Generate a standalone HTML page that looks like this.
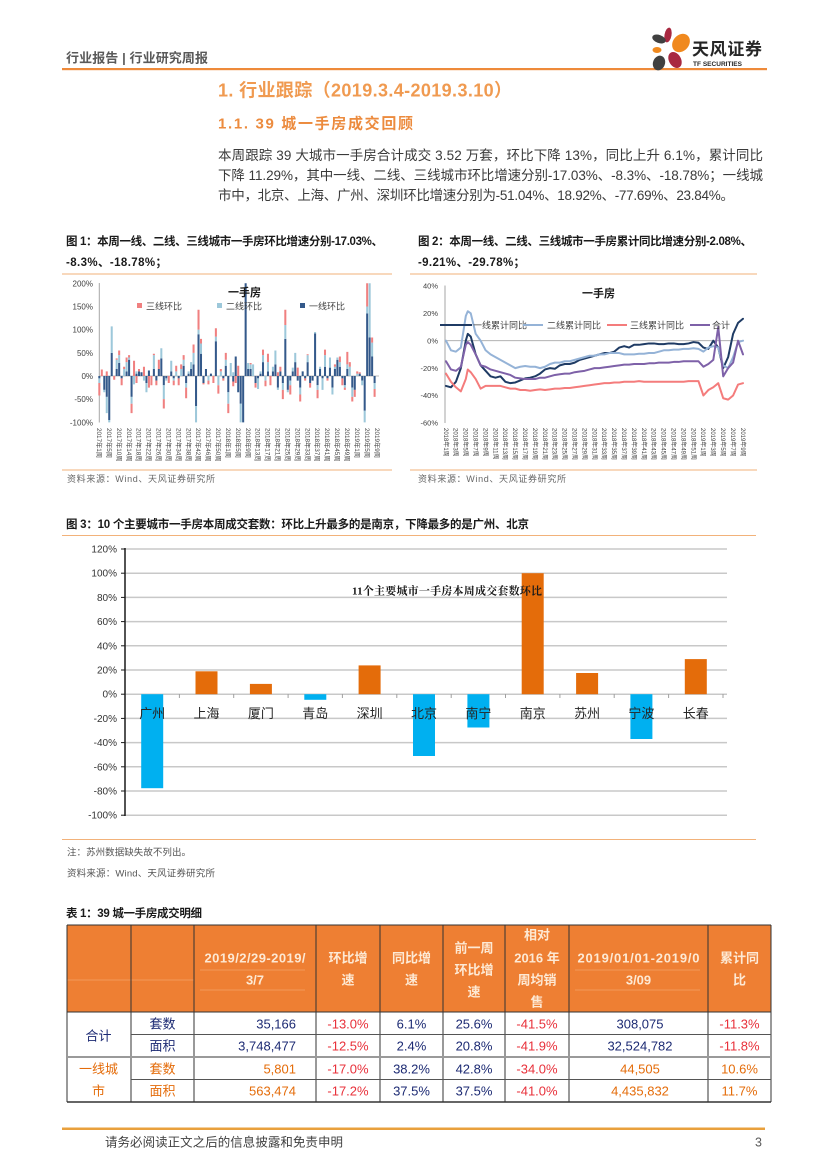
<!DOCTYPE html>
<html><head><meta charset="utf-8">
<style>
html,body{margin:0;padding:0;background:#fff;}
#pg{position:relative;width:827px;height:1169px;overflow:hidden;background:#fff;}
svg{position:absolute;left:0;top:0;}
</style></head>
<body><div id="pg">
<svg width="827" height="1169" viewBox="0 0 827 1169" font-family="'Liberation Sans','Noto Sans CJK SC',sans-serif">
<!-- Header -->
<text x="66" y="62.5" font-size="13" font-weight="bold" fill="#595959" textLength="142">行业报告 | 行业研究周报</text>
<rect x="62" y="68" width="705" height="2.2" fill="#EE8A3A"/>
<g>
<ellipse cx="668" cy="35" rx="3.5" ry="7.5" transform="rotate(10 668 35)" fill="#A82840"/>
<ellipse cx="681" cy="43" rx="8" ry="10" transform="rotate(40 681 43)" fill="#F0891E"/>
<ellipse cx="659" cy="39" rx="7" ry="4" transform="rotate(20 659 39)" fill="#404040"/>
<ellipse cx="657" cy="50" rx="4.5" ry="3" fill="#F0891E"/>
<ellipse cx="675" cy="60" rx="6" ry="8.5" transform="rotate(-30 675 60)" fill="#A82840"/>
<ellipse cx="659" cy="63" rx="6" ry="7.5" transform="rotate(20 659 63)" fill="#404040"/>
</g>
<text x="692" y="55" font-size="17" font-weight="bold" fill="#262626" textLength="70">天风证券</text>
<text x="693" y="66" font-size="6.5" font-weight="bold" fill="#262626" textLength="49">TF SECURITIES</text>

<!-- Titles -->
<text x="218" y="96.5" font-size="18" font-weight="bold" fill="#F09A50" textLength="294">1. 行业跟踪（2019.3.4-2019.3.10）</text>
<text x="218" y="128.5" font-size="15" font-weight="bold" fill="#EC8B3E" textLength="195">1.1.  39 城一手房成交回顾</text>

<!-- Paragraph -->
<g font-size="13.5" fill="#3a3a3a">
<text x="218" y="160" textLength="545">本周跟踪 39 大城市一手房合计成交 3.52 万套，环比下降 13%，同比上升 6.1%，累计同比</text>
<text x="218" y="180" textLength="545">下降 11.29%，其中一线、二线、三线城市环比增速分别-17.03%、-8.3%、-18.78%；一线城</text>
<text x="218" y="200" textLength="516">市中，北京、上海、广州、深圳环比增速分别为-51.04%、18.92%、-77.69%、23.84%。</text>
</g>

<!-- Captions fig1 / fig2 -->
<g font-size="11.5" font-weight="bold" fill="#1a1a1a">
<text x="66" y="245" textLength="317">图 1：本周一线、二线、三线城市一手房环比增速分别-17.03%、</text>
<text x="66" y="266" textLength="101">-8.3%、-18.78%；</text>
<text x="418" y="245" textLength="334">图 2：本周一线、二线、三线城市一手房累计同比增速分别-2.08%、</text>
<text x="418" y="266" textLength="107">-9.21%、-29.78%；</text>
</g>
<rect x="62" y="273.5" width="330" height="1" fill="#F2B27A"/>
<rect x="410" y="273.5" width="347" height="1" fill="#F2B27A"/>
<rect x="62" y="469.5" width="330" height="1" fill="#F2B27A"/>
<rect x="410" y="469.5" width="347" height="1" fill="#F2B27A"/>
<g font-size="9" fill="#666">
<text x="67" y="482" textLength="148">资料来源：Wind、天风证券研究所</text>
<text x="418" y="482" textLength="148">资料来源：Wind、天风证券研究所</text>
</g>

<!-- Chart 1 -->
<g font-size="8" fill="#404040" text-anchor="end">
<text x="93" y="286.3">200%</text><text x="93" y="309.5">150%</text><text x="93" y="332.6">100%</text>
<text x="93" y="355.8">50%</text><text x="93" y="379">0%</text><text x="93" y="402.2">-50%</text><text x="93" y="425.4">-100%</text>
</g>
<line x1="99.3" y1="283" x2="99.3" y2="422.5" stroke="#A6A6A6" stroke-width="1"/>
<line x1="99.3" y1="376" x2="379" y2="376" stroke="#A6A6A6" stroke-width="0.8"/>
<g transform="translate(99.3,376) scale(2.48,-0.4635)">
<path fill="#34598A" d="M-.4 0h.82V-5h-.82zM1.6 0h.82V-30h-.82zM2.6 0h.82V-45h-.82zM3.6 0h.82V-95h-.82zM4.6 0h.82V50h-.82zM6.6 0h.82V15h-.82zM7.6 0h.82V28h-.82zM8.6 0h.82V-5h-.82zM10.6 0h.82V10h-.82zM11.6 0h.82V35h-.82zM12.6 0h.82V-45h-.82zM14.6 0h.82V5h-.82zM15.6 0h.82V10h-.82zM16.6 0h.82V8h-.82zM18.6 0h.82V-15h-.82zM19.6 0h.82V12h-.82zM21.6 0h.82V15h-.82zM22.6 0h.82V-10h-.82zM23.6 0h.82V15h-.82zM24.6 0h.82V38h-.82zM25.6 0h.82V-20h-.82zM26.6 0h.82V-5h-.82zM28.6 0h.82V10h-.82zM29.6 0h.82V-5h-.82zM31.6 0h.82V-5h-.82zM33.6 0h.82V22h-.82zM34.6 0h.82V-15h-.82zM35.6 0h.82V5h-.82zM36.6 0h.82V15h-.82zM37.6 0h.82V25h-.82zM38.6 0h.82V-65h-.82zM39.6 0h.82V90h-.82zM40.6 0h.82V48h-.82zM41.6 0h.82V-15h-.82zM42.6 0h.82V15h-.82zM44.6 0h.82V5h-.82zM46.6 0h.82V75h-.82zM49.6 0h.82V-5h-.82zM50.6 0h.82V22h-.82zM51.6 0h.82V-35h-.82zM53.6 0h.82V-12h-.82zM54.6 0h.82V42h-.82zM55.6 0h.82V-35h-.82zM56.6 0h.82V-60h-.82zM57.6 0h.82V-100h-.82zM58.6 0h.82V200h-.82zM59.6 0h.82V15h-.82zM60.6 0h.82V15h-.82zM62.6 0h.82V-15h-.82zM63.6 0h.82V-5h-.82zM64.6 0h.82V5h-.82zM65.6 0h.82V30h-.82zM67.6 0h.82V10h-.82zM69.6 0h.82V10h-.82zM70.6 0h.82V25h-.82zM71.6 0h.82V-25h-.82zM72.6 0h.82V10h-.82zM73.6 0h.82V-15h-.82zM74.6 0h.82V80h-.82zM75.6 0h.82V-30h-.82zM76.6 0h.82V-10h-.82zM77.6 0h.82V10h-.82zM78.6 0h.82V30h-.82zM79.6 0h.82V-10h-.82zM80.6 0h.82V-25h-.82zM81.6 0h.82V10h-.82zM82.6 0h.82V-5h-.82zM83.6 0h.82V30h-.82zM84.6 0h.82V-15h-.82zM85.6 0h.82V-10h-.82zM86.6 0h.82V92h-.82zM87.6 0h.82V-20h-.82zM88.6 0h.82V15h-.82zM89.6 0h.82V-5h-.82zM90.6 0h.82V20h-.82zM91.6 0h.82V-5h-.82zM92.6 0h.82V18h-.82zM93.6 0h.82V-25h-.82zM94.6 0h.82V15h-.82zM95.6 0h.82V35h-.82zM96.6 0h.82V20h-.82zM97.6 0h.82V-5h-.82zM98.6 0h.82V-20h-.82zM99.6 0h.82V15h-.82zM101.6 0h.82V-25h-.82zM102.6 0h.82V-30h-.82zM104.6 0h.82V5h-.82zM105.6 0h.82V-10h-.82zM106.6 0h.82V-75h-.82zM107.6 0h.82V135h-.82zM108.6 0h.82V83h-.82zM109.6 0h.82V42h-.82zM110.6 0h.82V-15h-.82z"/>
<path fill="#9DC8DA" d="M-.4 -5h.82V-15h-.82zM1.6 -30h.82V-35h-.82zM2.6 -45h.82V-80h-.82zM3.6 -95h.82V-100h-.82zM4.6 50h.82V107h-.82zM6.6 15h.82V35h-.82zM7.6 28h.82V45h-.82zM9.6 0h.82V15h-.82zM10.6 10h.82V30h-.82zM11.6 35h.82V40h-.82zM12.6 -45h.82V-60h-.82zM13.6 0h.82V-18h-.82zM14.6 5h.82V10h-.82zM17.6 0h.82V-10h-.82zM18.6 -15h.82V-35h-.82zM21.6 15h.82V45h-.82zM24.6 38h.82V60h-.82zM25.6 -20h.82V-50h-.82zM26.6 -5h.82V-10h-.82zM28.6 10h.82V33h-.82zM29.6 -5h.82V-10h-.82zM30.6 0h.82V10h-.82zM32.6 0h.82V15h-.82zM33.6 22h.82V35h-.82zM34.6 -15h.82V-25h-.82zM35.6 5h.82V10h-.82zM36.6 15h.82V30h-.82zM37.6 25h.82V50h-.82zM38.6 -65h.82V-100h-.82zM39.6 90h.82V100h-.82zM40.6 48h.82V70h-.82zM43.6 0h.82V-10h-.82zM46.6 75h.82V85h-.82zM47.6 0h.82V-20h-.82zM48.6 0h.82V10h-.82zM50.6 22h.82V35h-.82zM51.6 -35h.82V-60h-.82zM52.6 0h.82V28h-.82zM53.6 0h.82V8h-.82zM56.6 -60h.82V-100h-.82zM59.6 15h.82V28h-.82zM60.6 15h.82V25h-.82zM61.6 0h.82V25h-.82zM63.6 -5h.82V-28h-.82zM64.6 5h.82V10h-.82zM65.6 30h.82V45h-.82zM66.6 0h.82V-10h-.82zM67.6 10h.82V30h-.82zM69.6 10h.82V20h-.82zM70.6 25h.82V55h-.82zM71.6 -25h.82V-30h-.82zM73.6 -15h.82V-30h-.82zM74.6 80h.82V110h-.82zM75.6 -30h.82V-35h-.82zM76.6 -10h.82V-20h-.82zM77.6 10h.82V18h-.82zM78.6 30h.82V50h-.82zM80.6 -25h.82V-40h-.82zM83.6 30h.82V45h-.82zM86.6 92h.82V95h-.82zM87.6 -20h.82V-30h-.82zM88.6 15h.82V20h-.82zM89.6 -5h.82V-30h-.82zM90.6 20h.82V45h-.82zM92.6 18h.82V40h-.82zM93.6 -25h.82V-40h-.82zM94.6 15h.82V20h-.82zM95.6 35h.82V40h-.82zM96.6 20h.82V30h-.82zM98.6 -20h.82V-25h-.82zM99.6 15h.82V25h-.82zM100.6 0h.82V20h-.82zM101.6 -25h.82V-45h-.82zM103.6 0h.82V5h-.82zM105.6 -10h.82V-20h-.82zM106.6 -75h.82V-100h-.82zM107.6 135h.82V150h-.82zM108.6 83h.82V200h-.82zM109.6 42h.82V72h-.82zM110.6 -15h.82V-28h-.82z"/>
<path fill="#F08080" d="M-.4 -15h.82V-42h-.82zM.6 0h.82V14h-.82zM2.6 0h.82V10h-.82zM5.6 0h.82V-8h-.82zM6.6 35h.82V38h-.82zM7.6 45h.82V55h-.82zM8.6 -5h.82V-20h-.82zM9.6 15h.82V20h-.82zM10.6 30h.82V40h-.82zM11.6 40h.82V45h-.82zM12.6 -60h.82V-80h-.82zM13.6 0h.82V33h-.82zM14.6 0h.82V-15h-.82zM15.6 10h.82V15h-.82zM17.6 0h.82V20h-.82zM19.6 0h.82V-25h-.82zM20.6 0h.82V-20h-.82zM21.6 45h.82V48h-.82zM22.6 -10h.82V-20h-.82zM23.6 15h.82V35h-.82zM25.6 -50h.82V-70h-.82zM27.6 0h.82V-15h-.82zM29.6 -10h.82V-20h-.82zM30.6 10h.82V22h-.82zM31.6 -5h.82V-20h-.82zM32.6 15h.82V25h-.82zM33.6 35h.82V45h-.82zM34.6 -25h.82V-48h-.82zM37.6 50h.82V68h-.82zM39.6 100h.82V143h-.82zM40.6 70h.82V80h-.82zM41.6 -15h.82V-18h-.82zM43.6 -10h.82V-18h-.82zM45.6 0h.82V-15h-.82zM46.6 85h.82V103h-.82zM47.6 -20h.82V-38h-.82zM48.6 10h.82V15h-.82zM49.6 -5h.82V-10h-.82zM50.6 35h.82V50h-.82zM51.6 -60h.82V-80h-.82zM53.6 -12h.82V-22h-.82zM54.6 0h.82V-15h-.82zM55.6 0h.82V22h-.82zM60.6 25h.82V28h-.82zM62.6 -15h.82V-25h-.82zM65.6 45h.82V57h-.82zM66.6 -10h.82V-22h-.82zM67.6 30h.82V48h-.82zM68.6 0h.82V-20h-.82zM71.6 0h.82V8h-.82zM72.6 10h.82V20h-.82zM73.6 -30h.82V-50h-.82zM74.6 110h.82V143h-.82zM76.6 -20h.82V-40h-.82zM79.6 0h.82V18h-.82zM80.6 -40h.82V-55h-.82zM82.6 -5h.82V-10h-.82zM83.6 45h.82V47h-.82zM84.6 -15h.82V-25h-.82zM87.6 -30h.82V-48h-.82zM90.6 45h.82V57h-.82zM91.6 -5h.82V-10h-.82zM94.6 20h.82V25h-.82zM96.6 30h.82V42h-.82zM97.6 -5h.82V-20h-.82zM98.6 -25h.82V-30h-.82zM99.6 25h.82V52h-.82zM100.6 20h.82V30h-.82zM101.6 -45h.82V-55h-.82zM102.6 -30h.82V-45h-.82zM103.6 5h.82V10h-.82zM104.6 5h.82V8h-.82zM107.6 150h.82V200h-.82zM109.6 72h.82V83h-.82zM110.6 -28h.82V-45h-.82z"/>
</g>
<text x="228" y="296" font-size="11" font-weight="bold" fill="#1a1a1a">一手房</text>
<g font-size="9" fill="#404040">
<rect x="137" y="303" width="5" height="5" fill="#F08080"/><text x="146" y="309.5">三线环比</text>
<rect x="217" y="303" width="5" height="5" fill="#9DC8DA"/><text x="226" y="309.5">二线环比</text>
<rect x="300" y="303" width="5" height="5" fill="#34598A"/><text x="309" y="309.5">一线环比</text>
</g>
<g font-size="6.3" fill="#404040">
<text transform="translate(97,428) rotate(90)">2017年1周</text>
<text transform="translate(106.9,428) rotate(90)">2017年5周</text>
<text transform="translate(116.8,428) rotate(90)">2017年10周</text>
<text transform="translate(126.8,428) rotate(90)">2017年14周</text>
<text transform="translate(136.7,428) rotate(90)">2017年18周</text>
<text transform="translate(146.6,428) rotate(90)">2017年22周</text>
<text transform="translate(156.5,428) rotate(90)">2017年26周</text>
<text transform="translate(166.4,428) rotate(90)">2017年30周</text>
<text transform="translate(176.4,428) rotate(90)">2017年34周</text>
<text transform="translate(186.3,428) rotate(90)">2017年38周</text>
<text transform="translate(196.2,428) rotate(90)">2017年42周</text>
<text transform="translate(206.1,428) rotate(90)">2017年46周</text>
<text transform="translate(216,428) rotate(90)">2017年50周</text>
<text transform="translate(226,428) rotate(90)">2018年1周</text>
<text transform="translate(235.9,428) rotate(90)">2018年5周</text>
<text transform="translate(245.8,428) rotate(90)">2018年9周</text>
<text transform="translate(255.7,428) rotate(90)">2018年13周</text>
<text transform="translate(265.6,428) rotate(90)">2018年17周</text>
<text transform="translate(275.6,428) rotate(90)">2018年21周</text>
<text transform="translate(285.5,428) rotate(90)">2018年25周</text>
<text transform="translate(295.4,428) rotate(90)">2018年29周</text>
<text transform="translate(305.3,428) rotate(90)">2018年33周</text>
<text transform="translate(315.2,428) rotate(90)">2018年37周</text>
<text transform="translate(325.2,428) rotate(90)">2018年41周</text>
<text transform="translate(335.1,428) rotate(90)">2018年45周</text>
<text transform="translate(345,428) rotate(90)">2018年49周</text>
<text transform="translate(354.9,428) rotate(90)">2019年1周</text>
<text transform="translate(364.8,428) rotate(90)">2019年5周</text>
<text transform="translate(374.8,428) rotate(90)">2019年9周</text>
</g>

<!-- Chart 2 -->
<g font-size="7.5" fill="#404040" text-anchor="end">
<text x="438" y="288.6">40%</text><text x="438" y="316">20%</text><text x="438" y="343.4">0%</text>
<text x="438" y="370.8">-20%</text><text x="438" y="398.2">-40%</text><text x="438" y="425.6">-60%</text>
</g>
<line x1="445" y1="285.5" x2="445" y2="423" stroke="#A6A6A6" stroke-width="1"/>
<line x1="445" y1="340.7" x2="744" y2="340.7" stroke="#A6A6A6" stroke-width="0.8"/>
<g transform="translate(446,340.7) scale(4.95,-1.37)" fill="none" stroke-linejoin="round" stroke-linecap="round">
<polyline vector-effect="non-scaling-stroke" stroke="#1F3B64" stroke-width="2" points="0,-33 1,-34 2,-30 3,-20 4,0 4.4,5 5,3 6,-10 7,-18 8,-22 9,-26 10,-27 11,-26 12,-30 13,-31 14,-30.5 15,-29 16,-27.5 17,-27 18,-26 19,-24 20,-21 21,-20 22,-20.5 23,-18 24,-17 25,-17 26,-16 27,-14 28,-13 29,-12 30,-11 31,-10 32,-9 33,-9 34,-8 35,-5 36,-4 37,-5 38,-3 39,-3 40,-2.5 41,-2 42,-2 43,-2.5 44,-2.5 45,-2 46,-2 47,-2.5 48,-2.5 49,-2 50,-1 51,-1.5 52,-5 53,-6 54,0 55,-5 56,-20 57,-12 58,5 59,13 60,16"/>
<polyline vector-effect="non-scaling-stroke" stroke="#95B3D7" stroke-width="2" points="0,0 1,-7 2,-8 3,-5 4,18 4.4,21.5 5,20 6,5 7,0 8,-7 9,-10 10,-12 11,-14 12,-16 13,-18 14,-20 15,-19 16,-18.5 17,-19 18,-19 19,-20 20,-19 21,-17 22,-16 23,-16 24,-15 25,-15 26,-14 27,-13 28,-12 29,-11 30,-11 31,-10 32,-10 33,-9 34,-9 35,-9 36,-10 37,-10 38,-10 39,-9.5 40,-9.5 41,-9 42,-9 43,-8 44,-7 45,-7 46,-6.5 47,-6.5 48,-6 49,-6 50,-5.5 51,-6 52,-8 53,-5 54,-4 55,-5 56,-18 57,-20 58,-12 59,-1 60,0"/>
<polyline vector-effect="non-scaling-stroke" stroke="#F47C7C" stroke-width="2" points="0,-24 1,-30 2,-34 3,-37 4,-28 4.4,-21 5,-23 6,-28 7,-35 8,-33 9,-33 10,-33 11,-33 12,-34 13,-35 14,-35 15,-36 16,-36 17,-36.5 18,-36 19,-35.5 20,-36 21,-35.5 22,-35 23,-35 24,-34.5 25,-34.5 26,-34 27,-33.5 28,-33 29,-32.5 30,-32 31,-31.5 32,-31 33,-31 34,-30.5 35,-30.5 36,-30 37,-30 38,-30 39,-29.5 40,-30 41,-30 42,-30 43,-30 44,-30 45,-30 46,-30 47,-30 48,-30 49,-29.5 50,-29.5 51,-29.5 52,-40 53,-36 54,-34 55,-31 56,-42 57,-43 58,-40 59,-32 60,-31"/>
<polyline vector-effect="non-scaling-stroke" stroke="#7E61A8" stroke-width="2" points="0,-15 1,-21 2,-22 3,-19 4,-3 4.4,-1 5,-3 6,-10 7,-18 8,-19 9,-21 10,-22 11,-23 12,-24 13,-25 14,-27 15,-27.5 16,-28 17,-28 18,-28 19,-27 20,-27 21,-26 22,-25 23,-24.5 24,-24 25,-24 26,-23 27,-22.5 28,-22 29,-21 30,-20 31,-20 32,-19.5 33,-19 34,-18.5 35,-18 36,-17.5 37,-17.5 38,-17 39,-17 40,-17 41,-16.5 42,-16.5 43,-16 44,-16 45,-16 46,-15.5 47,-15.5 48,-15 49,-15 50,-15 51,-15 52,-19 53,-17 54,-14 55,10 56,-26 57,-20 58,-16 59,0 60,-10"/>
</g>
<text x="582" y="297" font-size="11" font-weight="bold" fill="#1a1a1a">一手房</text>
<g font-size="9" fill="#404040">
<line x1="440" y1="325" x2="472" y2="325" stroke="#1F3B64" stroke-width="2"/><text x="473" y="328.3">一线累计同比</text>
<line x1="523" y1="325" x2="543" y2="325" stroke="#95B3D7" stroke-width="2"/><text x="547" y="328.3">二线累计同比</text>
<line x1="607" y1="325" x2="627" y2="325" stroke="#F47C7C" stroke-width="2"/><text x="630" y="328.3">三线累计同比</text>
<line x1="690" y1="325" x2="710" y2="325" stroke="#7E61A8" stroke-width="2"/><text x="712" y="328.3">合计</text>
</g>
<g font-size="6" fill="#404040">
<text transform="translate(443.8,428) rotate(90)">2018年1周</text>
<text transform="translate(453.7,428) rotate(90)">2018年3周</text>
<text transform="translate(463.6,428) rotate(90)">2018年5周</text>
<text transform="translate(473.5,428) rotate(90)">2018年7周</text>
<text transform="translate(483.4,428) rotate(90)">2018年9周</text>
<text transform="translate(493.3,428) rotate(90)">2018年11周</text>
<text transform="translate(503.2,428) rotate(90)">2018年13周</text>
<text transform="translate(513.1,428) rotate(90)">2018年15周</text>
<text transform="translate(523,428) rotate(90)">2018年17周</text>
<text transform="translate(532.9,428) rotate(90)">2018年19周</text>
<text transform="translate(542.8,428) rotate(90)">2018年21周</text>
<text transform="translate(552.7,428) rotate(90)">2018年23周</text>
<text transform="translate(562.6,428) rotate(90)">2018年25周</text>
<text transform="translate(572.5,428) rotate(90)">2018年27周</text>
<text transform="translate(582.4,428) rotate(90)">2018年29周</text>
<text transform="translate(592.3,428) rotate(90)">2018年31周</text>
<text transform="translate(602.2,428) rotate(90)">2018年33周</text>
<text transform="translate(612.1,428) rotate(90)">2018年35周</text>
<text transform="translate(622,428) rotate(90)">2018年37周</text>
<text transform="translate(631.9,428) rotate(90)">2018年39周</text>
<text transform="translate(641.8,428) rotate(90)">2018年41周</text>
<text transform="translate(651.7,428) rotate(90)">2018年43周</text>
<text transform="translate(661.6,428) rotate(90)">2018年45周</text>
<text transform="translate(671.5,428) rotate(90)">2018年47周</text>
<text transform="translate(681.4,428) rotate(90)">2018年49周</text>
<text transform="translate(691.3,428) rotate(90)">2018年51周</text>
<text transform="translate(701.2,428) rotate(90)">2019年1周</text>
<text transform="translate(711.1,428) rotate(90)">2019年3周</text>
<text transform="translate(721,428) rotate(90)">2019年5周</text>
<text transform="translate(730.9,428) rotate(90)">2019年7周</text>
<text transform="translate(740.8,428) rotate(90)">2019年9周</text>
</g>

<!-- Chart 3 -->
<text x="66" y="528" font-size="11.5" font-weight="bold" fill="#1a1a1a" textLength="463">图 3：10 个主要城市一手房本周成交套数：环比上升最多的是南京，下降最多的是广州、北京</text>
<rect x="62" y="535" width="694" height="1" fill="#F2B27A"/>
<g stroke="#C8C8C8" stroke-width="1.5">
<line x1="125" y1="549" x2="727" y2="549"/><line x1="125" y1="573.2" x2="727" y2="573.2"/>
<line x1="125" y1="597.4" x2="727" y2="597.4"/><line x1="125" y1="621.6" x2="727" y2="621.6"/>
<line x1="125" y1="645.8" x2="727" y2="645.8"/><line x1="125" y1="670" x2="727" y2="670"/>
<line x1="125" y1="694.2" x2="727" y2="694.2"/><line x1="125" y1="718.4" x2="727" y2="718.4"/>
<line x1="125" y1="742.6" x2="727" y2="742.6"/><line x1="125" y1="766.8" x2="727" y2="766.8"/>
<line x1="125" y1="791" x2="727" y2="791"/><line x1="125" y1="815.2" x2="727" y2="815.2"/>
</g>
<g stroke="#A0A0A0" stroke-width="1">
<line x1="179.4" y1="694" x2="179.4" y2="698"/><line x1="233.7" y1="694" x2="233.7" y2="698"/>
<line x1="288.1" y1="694" x2="288.1" y2="698"/><line x1="342.4" y1="694" x2="342.4" y2="698"/>
<line x1="396.8" y1="694" x2="396.8" y2="698"/><line x1="451.2" y1="694" x2="451.2" y2="698"/>
<line x1="505.5" y1="694" x2="505.5" y2="698"/><line x1="559.9" y1="694" x2="559.9" y2="698"/>
<line x1="614.2" y1="694" x2="614.2" y2="698"/><line x1="668.6" y1="694" x2="668.6" y2="698"/>
<line x1="723" y1="694" x2="723" y2="698"/>
</g>
<line x1="125" y1="548" x2="125" y2="816" stroke="#1a1a1a" stroke-width="1.5"/>
<g stroke="#1a1a1a" stroke-width="1">
<line x1="121" y1="549" x2="125" y2="549"/><line x1="121" y1="573.2" x2="125" y2="573.2"/><line x1="121" y1="597.4" x2="125" y2="597.4"/><line x1="121" y1="621.6" x2="125" y2="621.6"/><line x1="121" y1="645.8" x2="125" y2="645.8"/><line x1="121" y1="670" x2="125" y2="670"/><line x1="121" y1="694.2" x2="125" y2="694.2"/><line x1="121" y1="718.4" x2="125" y2="718.4"/><line x1="121" y1="742.6" x2="125" y2="742.6"/><line x1="121" y1="766.8" x2="125" y2="766.8"/><line x1="121" y1="791" x2="125" y2="791"/><line x1="121" y1="815.2" x2="125" y2="815.2"/>
</g>
<g font-size="10" fill="#333" text-anchor="end">
<text x="117" y="552.5">120%</text><text x="117" y="576.7">100%</text><text x="117" y="600.9">80%</text>
<text x="117" y="625.1">60%</text><text x="117" y="649.3">40%</text><text x="117" y="673.5">20%</text>
<text x="117" y="697.7">0%</text><text x="117" y="721.9">-20%</text><text x="117" y="746.1">-40%</text>
<text x="117" y="770.3">-60%</text><text x="117" y="794.5">-80%</text><text x="117" y="818.7">-100%</text>
</g>
<g>
<rect x="141.2" y="694.2" width="22" height="94" fill="#00B0F0"/>
<rect x="195.5" y="671.3" width="22" height="22.9" fill="#E46C0A"/>
<rect x="249.9" y="683.9" width="22" height="10.3" fill="#E46C0A"/>
<rect x="304.3" y="694.2" width="22" height="5.6" fill="#00B0F0"/>
<rect x="358.6" y="665.4" width="22" height="28.8" fill="#E46C0A"/>
<rect x="413" y="694.2" width="22" height="61.8" fill="#00B0F0"/>
<rect x="467.4" y="694.2" width="22" height="33.3" fill="#00B0F0"/>
<rect x="521.7" y="573.2" width="22" height="121" fill="#E46C0A"/>
<rect x="576.1" y="673" width="22" height="21.2" fill="#E46C0A"/>
<rect x="630.4" y="694.2" width="22" height="44.8" fill="#00B0F0"/>
<rect x="684.8" y="659.1" width="22" height="35.1" fill="#E46C0A"/>
</g>
<text x="352" y="594.5" font-size="11" font-weight="bold" fill="#1a1a1a" font-family="'Liberation Serif','Noto Serif CJK SC',serif" textLength="190">11个主要城市一手房本周成交套数环比</text>
<g font-size="13" fill="#262626" text-anchor="middle">
<text x="152.2" y="718">广州</text><text x="206.5" y="718">上海</text><text x="260.9" y="718">厦门</text>
<text x="315.3" y="718">青岛</text><text x="369.6" y="718">深圳</text><text x="424" y="718">北京</text>
<text x="478.4" y="718">南宁</text><text x="532.7" y="718">南京</text><text x="587.1" y="718">苏州</text>
<text x="641.4" y="718">宁波</text><text x="695.8" y="718">长春</text>
</g>
<rect x="62" y="839" width="694" height="1" fill="#F2B27A"/>
<g font-size="9.5" fill="#555">
<text x="67" y="855.5" textLength="124">注：苏州数据缺失故不列出。</text>
<text x="67" y="876.5" textLength="148">资料来源：Wind、天风证券研究所</text>
</g>

<!-- Table -->
<text x="66" y="917" font-size="11.5" font-weight="bold" fill="#1a1a1a" textLength="136">表 1：39 城一手房成交明细</text>
<rect x="67" y="925" width="704" height="87" fill="#EE7F33"/>
<g stroke="#F6B27E" stroke-width="0.6">
<line x1="67" y1="980" x2="131" y2="980"/><line x1="131" y1="980" x2="194" y2="980"/>
<line x1="200" y1="970" x2="305" y2="970"/><line x1="200" y1="990" x2="305" y2="990"/>
<line x1="575" y1="970" x2="700" y2="970"/><line x1="575" y1="990" x2="700" y2="990"/>
</g>
<g stroke="#333" stroke-width="1">
<line x1="67" y1="925" x2="771" y2="925"/>
<line x1="67" y1="1012" x2="771" y2="1012"/>
<line x1="67" y1="925" x2="67" y2="1102"/>
<line x1="771" y1="925" x2="771" y2="1102"/>
<line x1="131" y1="925" x2="131" y2="1102"/>
<line x1="194" y1="925" x2="194" y2="1102"/>
<line x1="316" y1="925" x2="316" y2="1102"/>
<line x1="380" y1="925" x2="380" y2="1102"/>
<line x1="443" y1="925" x2="443" y2="1102"/>
<line x1="505" y1="925" x2="505" y2="1102"/>
<line x1="569" y1="925" x2="569" y2="1102"/>
<line x1="708" y1="925" x2="708" y2="1102"/>
<line x1="131" y1="1034.5" x2="771" y2="1034.5" stroke="#555"/>
<line x1="131" y1="1079.5" x2="771" y2="1079.5" stroke="#555"/>
</g>
<line x1="67" y1="1057" x2="771" y2="1057" stroke="#9A9A9A" stroke-width="2"/>
<line x1="67" y1="1102" x2="771" y2="1102" stroke="#333" stroke-width="1.5"/>
<g font-size="13" font-weight="bold" fill="#FDE9D4" text-anchor="middle">
<text x="255" y="962.5" textLength="101">2019/2/29-2019/</text><text x="255" y="984.5">3/7</text>
<text x="348" y="962.5">环比增</text><text x="348" y="984.5">速</text>
<text x="411.5" y="962.5">同比增</text><text x="411.5" y="984.5">速</text>
<text x="474" y="952.5">前一周</text><text x="474" y="974.5">环比增</text><text x="474" y="996.5">速</text>
<text x="537" y="939.5">相对</text><text x="537" y="962.5">2016 年</text><text x="537" y="984.5">周均销</text><text x="537" y="1006.5">售</text>
<text x="638.5" y="962.5" textLength="122">2019/01/01-2019/0</text><text x="638.5" y="984.5">3/09</text>
<text x="739.5" y="962.5">累计同</text><text x="739.5" y="984.5">比</text>
</g>
<g font-size="13" text-anchor="middle">
<text x="98.5" y="1040.5" fill="#1C2A73">合计</text>
<text x="162.5" y="1028.5" fill="#1C2A73">套数</text>
<text x="162.5" y="1050.5" fill="#1C2A73">面积</text>
<text x="98.5" y="1073.5" fill="#E46C0A">一线城</text>
<text x="98.5" y="1095.5" fill="#E46C0A">市</text>
<text x="162.5" y="1073.5" fill="#E46C0A">套数</text>
<text x="162.5" y="1095.5" fill="#E46C0A">面积</text>
</g>
<g font-size="13" text-anchor="end">
<text x="296" y="1028.5" fill="#1C2A73">35,166</text>
<text x="296" y="1050.5" fill="#1C2A73">3,748,477</text>
<text x="296" y="1073.5" fill="#E46C0A">5,801</text>
<text x="296" y="1095.5" fill="#E46C0A">563,474</text>
</g>
<g font-size="13" text-anchor="middle">
<text x="348" y="1028.5" fill="#E8303A">-13.0%</text>
<text x="348" y="1050.5" fill="#E8303A">-12.5%</text>
<text x="348" y="1073.5" fill="#E8303A">-17.0%</text>
<text x="348" y="1095.5" fill="#E8303A">-17.2%</text>
<text x="411.5" y="1028.5" fill="#1C2A73">6.1%</text>
<text x="411.5" y="1050.5" fill="#1C2A73">2.4%</text>
<text x="411.5" y="1073.5" fill="#1C2A73">38.2%</text>
<text x="411.5" y="1095.5" fill="#1C2A73">37.5%</text>
<text x="474" y="1028.5" fill="#1C2A73">25.6%</text>
<text x="474" y="1050.5" fill="#1C2A73">20.8%</text>
<text x="474" y="1073.5" fill="#1C2A73">42.8%</text>
<text x="474" y="1095.5" fill="#1C2A73">37.5%</text>
<text x="537" y="1028.5" fill="#E8303A">-41.5%</text>
<text x="537" y="1050.5" fill="#E8303A">-41.9%</text>
<text x="537" y="1073.5" fill="#E8303A">-34.0%</text>
<text x="537" y="1095.5" fill="#E8303A">-41.0%</text>
<text x="640" y="1028.5" fill="#1C2A73">308,075</text>
<text x="640" y="1050.5" fill="#1C2A73">32,524,782</text>
<text x="640" y="1073.5" fill="#E46C0A">44,505</text>
<text x="640" y="1095.5" fill="#E46C0A">4,435,832</text>
<text x="739.5" y="1028.5" fill="#E8303A">-11.3%</text>
<text x="739.5" y="1050.5" fill="#E8303A">-11.8%</text>
<text x="739.5" y="1073.5" fill="#E46C0A">10.6%</text>
<text x="739.5" y="1095.5" fill="#E46C0A">11.7%</text>
</g>

<!-- Footer -->
<rect x="62" y="1127.5" width="703" height="2.5" fill="#E9A03C"/>
<text x="105" y="1146.5" font-size="12.5" fill="#404040" textLength="238">请务必阅读正文之后的信息披露和免责申明</text>
<text x="755" y="1146.5" font-size="12.5" fill="#595959">3</text>
</svg>
</div></body></html>
